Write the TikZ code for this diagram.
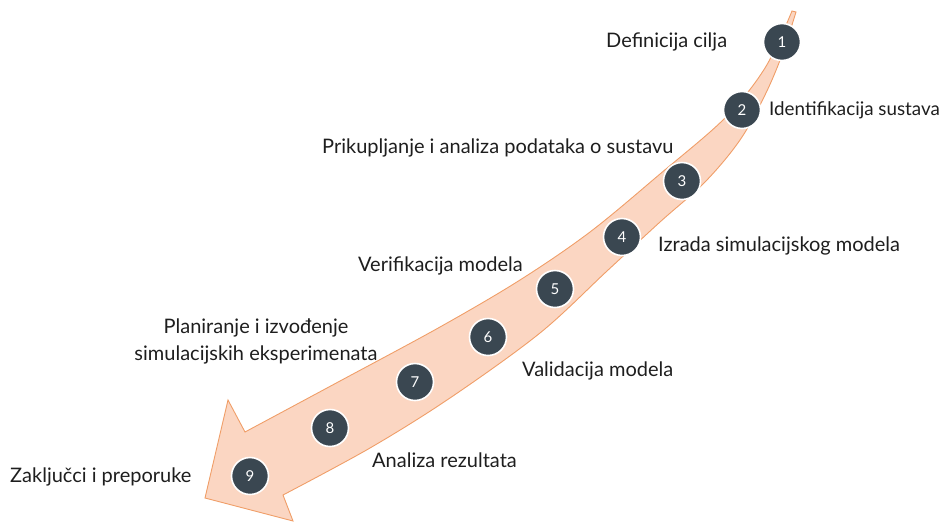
\documentclass[tikz,border=0pt]{standalone}
\usepackage{fontspec}
\setmainfont{Lato}
\definecolor{bandfill}{RGB}{251,214,194}
\definecolor{bandline}{RGB}{240,158,104}
\definecolor{dot}{RGB}{58,71,81}
\definecolor{txt}{RGB}{30,30,30}
\begin{document}
\begin{tikzpicture}[x=1pt,y=-1pt,
  stepdot/.style={circle,fill=dot,draw=white,line width=1.6pt,minimum size=37pt,inner sep=0pt,
    text=white,font=\fontsize{15}{15}\selectfont},
  lbl/.style={anchor=west,inner sep=0pt,text=txt,font=\fontsize{20}{24}\selectfont}]
\useasboundingbox (0,0) rectangle (948,523);
% curved arrow band
\draw[fill=bandfill,draw=bandline,line width=0.9pt,line join=miter]
  plot[smooth,tension=0.55] coordinates {(792,11) (765,68) (725,118) (660,174) (590,232) (520,280) (440,327) (340,381) (245,432)}
  -- (228,400) -- (205,498) -- (293,521) -- (283,495)
  -- plot[smooth,tension=0.55] coordinates {(283,495) (370,448) (450,398) (540,333) (607,271) (660,222) (705,182) (740,140) (765,95) (782,55) (796,12)}
  -- cycle;
% step circles
\node[stepdot] (s1) at (782,42) {1};
\node[stepdot] (s2) at (742,110) {2};
\node[stepdot] (s3) at (682,181) {3};
\node[stepdot] (s4) at (622,237) {4};
\node[stepdot] (s5) at (555,289) {5};
\node[stepdot] (s6) at (488,337) {6};
\node[stepdot] (s7) at (415,382) {7};
\node[stepdot] (s8) at (330,428) {8};
\node[stepdot] (s9) at (250,476) {9};
% labels
\node[lbl] (l1) at (606,42) {Definicija cilja};
\node[lbl,font=\fontsize{18.8}{24}\selectfont] (l2) at (769,110) {Identifikacija sustava};
\node[lbl] (l3) at (322,148) {Prikupljanje i analiza podataka o sustavu};
\node[lbl] (l4) at (658,246) {Izrada simulacijskog modela};
\node[lbl] (l5) at (358,266) {Verifikacija modela};
\node[lbl,anchor=center,align=center] (l6) at (256,341) {Planiranje i izvođenje\\[3pt]simulacijskih eksperimenata};
\node[lbl] (l7) at (522,371) {Validacija modela};
\node[lbl] (l8) at (372,460) {Analiza rezultata};
\node[lbl] (l9) at (10,477) {Zaključci i preporuke};
\end{tikzpicture}
\end{document}
